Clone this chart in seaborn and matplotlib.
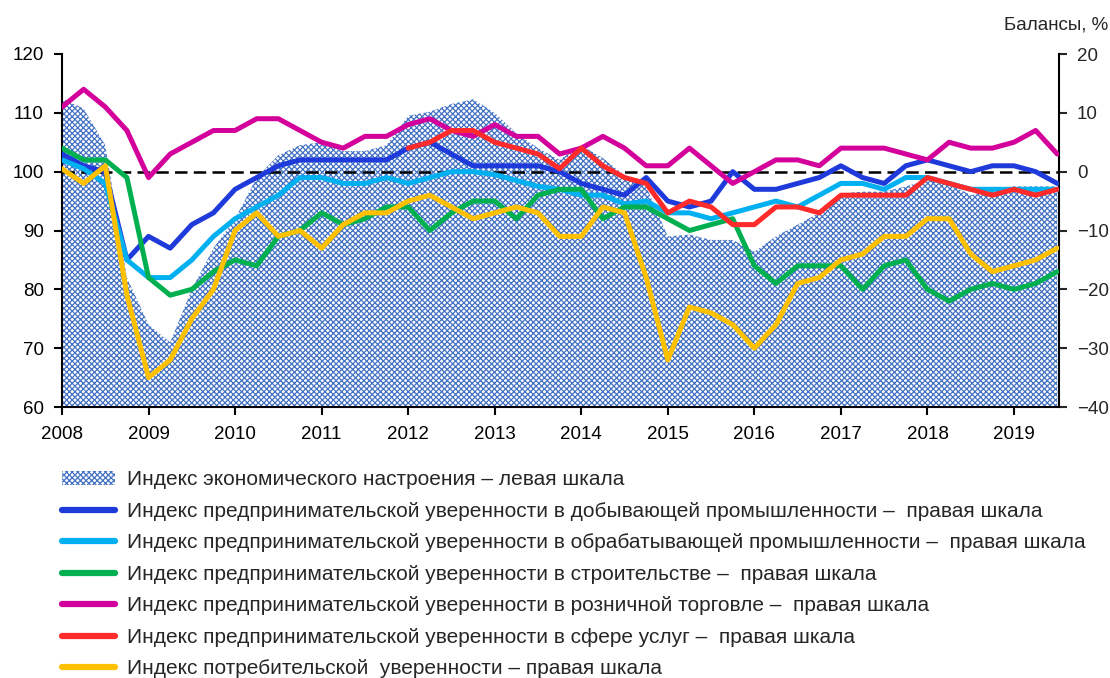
import numpy as np
import pandas as pd
import matplotlib
matplotlib.use("Agg")
import matplotlib.pyplot as plt
import seaborn as sns
from matplotlib.patches import Patch
from matplotlib.lines import Line2D

# quarterly points, 2008Q1 .. 2019Q3
quarters = np.arange(2008, 2019.51, 0.25)

# Индекс экономического настроения (левая шкала)
esi = [112.5, 110.7, 104.5, 82, 74, 71, 80, 87, 92, 99, 102.8, 104.5, 105, 103.5, 103.5, 104.5,
       109.5, 110.2, 111.5, 112.3, 110, 106.5, 104, 102, 104.5, 102.3, 99.4, 97.5, 89, 89.3, 88.4, 88.4,
       86.4, 89, 91, 93, 96.3, 96.6, 96.6, 97.5, 98.6, 98, 96, 97, 97.5, 97.5, 97.5]

# балансы, правая шкала
mining = [3, 1, 0, -15, -11, -13, -9, -7, -3, -1, 1, 2, 2, 2, 2, 2,
          4, 5, 3, 1, 1, 1, 1, 0, -2, -3, -4, -1, -5, -6, -5, 0,
          -3, -3, -2, -1, 1, -1, -2, 1, 2, 1, 0, 1, 1, 0, -2]
manufacturing = [2, 0.5, -2, -15, -18, -18, -15, -11, -8, -6, -4, -1, -1, -2, -2, -1,
                 -2, -1, 0, 0, -0.5, -1.5, -2.5, -3, -4, -4, -5.5, -5, -7, -7, -8, -7,
                 -6, -5, -6, -4, -2, -2, -3, -1, -1, -2, -3, -3, -3, -3, -3]
construction = [4, 2, 2, -1, -18, -21, -20, -17, -15, -16, -11, -10, -7, -9, -8, -6,
                -6, -10, -7, -5, -5, -8, -4, -3, -3, -8, -6, -6, -8, -10, -9, -8,
                -16, -19, -16, -16, -16, -20, -16, -15, -20, -22, -20, -19, -20, -19, -17]
retail = [11, 14, 11, 7, -1, 3, 5, 7, 7, 9, 9, 7, 5, 4, 6, 6,
          8, 9, 7, 6, 8, 6, 6, 3, 4, 6, 4, 1, 1, 4, 1, -2,
          0, 2, 2, 1, 4, 4, 4, 3, 2, 5, 4, 4, 5, 7, 3]
services = [np.nan] * 16 + [4, 5, 7, 7, 5, 4, 3, 0.5, 4, 1, -1, -2, -7, -5, -6, -9,
                            -9, -6, -6, -7, -4, -4, -4, -4, -1, -2, -3, -4, -3, -4, -3]
consumer = [0.5, -2, 1, -21, -35, -32, -25, -20, -10, -7, -11, -10, -13, -9, -7, -7,
            -5, -4, -6, -8, -7, -6, -7, -11, -11, -6, -7, -18, -32, -23, -24, -26,
            -30, -26, -19, -18, -15, -14, -11, -11, -8, -8, -14, -17, -16, -15, -13]

labels = [
    "Индекс экономического настроения – левая шкала",
    "Индекс предпринимательской уверенности в добывающей промышленности –  правая шкала",
    "Индекс предпринимательской уверенности в обрабатывающей промышленности –  правая шкала",
    "Индекс предпринимательской уверенности в строительстве –  правая шкала",
    "Индекс предпринимательской уверенности в розничной торговле –  правая шкала",
    "Индекс предпринимательской уверенности в сфере услуг –  правая шкала",
    "Индекс потребительской  уверенности – правая шкала",
]
colors = ["#1F3ADB", "#00B0F0", "#00B050", "#D4009B", "#FF2A2A", "#FFC000"]

series = [mining, manufacturing, construction, retail, services, consumer]
df = pd.concat([pd.DataFrame({"q": quarters, "v": s, "name": lab})
                for s, lab in zip(series, labels[1:])], ignore_index=True)

sns.set_style("white")
plt.rcParams["font.family"] = ["Liberation Sans", "DejaVu Sans"]
plt.rcParams["hatch.linewidth"] = 0.9

fig = plt.figure(figsize=(11.1, 6.78), dpi=100)
ax = fig.add_axes([62 / 1110, 1 - 407 / 678, (1059 - 62) / 1110, (407 - 54) / 678])
ax2 = ax.twinx()

ax.fill_between(quarters, 60, esi, facecolor="white", edgecolor="#4472C4",
                hatch="xxxxxx", linewidth=0, zorder=1)
ax.set_ylim(60, 120)
ax.set_xlim(2008, 2019.52)

ax2.axhline(0, color="black", lw=1.8, ls=(0, (5, 2.5)), zorder=1)
sns.lineplot(data=df, x="q", y="v", hue="name", palette=colors, lw=3.6,
             legend=False, ax=ax2, zorder=3)
ax2.set_ylim(-40, 20)
ax2.set_xlim(2008, 2019.52)

ax.set_yticks(np.arange(60, 121, 10))
ax2.set_yticks(np.arange(-40, 21, 10))
ax.set_xticks(np.arange(2008, 2020))
for a in (ax, ax2):
    a.set_xlabel("")
    a.set_ylabel("")
    a.spines["top"].set_visible(False)
    for sp in a.spines.values():
        sp.set_linewidth(1.5)
        sp.set_color("black")
ax.spines["right"].set_visible(False)
ax2.spines["left"].set_visible(False)
ax2.spines["bottom"].set_visible(False)
ax.tick_params(axis="y", direction="out", length=6, width=1.5, labelsize=13.5, colors="black",
               left=True, pad=7)
ax.tick_params(axis="x", direction="out", length=6, width=1.5, labelsize=13.5, colors="black",
               bottom=True, pad=8)
ax2.tick_params(axis="y", direction="out", length=6, width=1.5, labelsize=13.5, right=True, pad=7)

fig.text(1108 / 1110, 1 - 25 / 678, "Балансы, %", ha="right", va="center", fontsize=13.5)

handles = [Patch(facecolor="white", edgecolor="#4472C4", hatch="xxxxxx", linewidth=0)]
handles += [Line2D([0], [0], color=c, lw=4.5) for c in colors]
fig.legend(handles, labels, loc="upper left", bbox_to_anchor=(54 / 1110, 1 - 462 / 678),
           frameon=False, fontsize=15, handlelength=2.55, handletextpad=0.55,
           labelspacing=0.6, borderaxespad=0)

fig.savefig("out.png", dpi=100)
